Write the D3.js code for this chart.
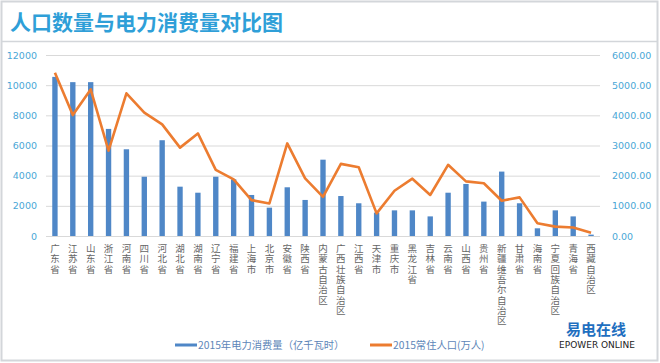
<!DOCTYPE html>
<html>
<head>
<meta charset="utf-8">
<script src="https://cdn.jsdelivr.net/npm/d3@7"></script>
<style>
  body { margin: 0; background: #fff; }
  svg { display: block; font-family: "Noto Sans CJK SC", "DejaVu Sans", sans-serif; }
</style>
</head>
<body>
<script>
// provinces, in chart order
var provinces = ["广东省", "江苏省", "山东省", "浙江省", "河南省", "四川省", "河北省", "湖北省", "湖南省", "辽宁省",
    "福建省", "上海市", "北京市", "安徽省", "陕西省", "内蒙古自治区", "广西壮族自治区", "江西省", "天津市", "重庆市",
    "黑龙江省", "吉林省", "云南省", "山西省", "贵州省", "新疆维吾尔自治区", "甘肃省", "海南省", "宁夏回族自治区", "青海省", "西藏自治区"];

// 2015 electricity consumption (left axis)
var power = [10550, 10200, 10200, 7100, 5750, 3930, 6350, 3270, 2870, 3930,
    3760, 2720, 1880, 3230, 2390, 5060, 2650, 2170, 1550, 1700,
    1700, 1300, 2870, 3450, 2280, 4270, 2170, 510, 1700, 1300, 90];

// 2015 resident population (right axis)
var population = [5410, 4010, 4860, 2830, 4730, 4090, 3700, 2930, 3400, 2190,
    1880, 1190, 1080, 3070, 1910, 1300, 2390, 2280, 750, 1500,
    1900, 1360, 2360, 1810, 1750, 1170, 1280, 420, 310, 280, 110];

var leftTicks = [0, 2000, 4000, 6000, 8000, 10000, 12000];
var rightTicks = [0, 1000, 2000, 3000, 4000, 5000, 6000];
var legendLabels = ["2015年电力消费量（亿千瓦时）", "2015常住人口(万人)"];

var W = 660, H = 363;
var margin = {top: 55, right: 60, bottom: 127, left: 46},
    width = W - margin.left - margin.right,
    height = H - margin.top - margin.bottom;

var blue = "#4f87c7", orange = "#ec7c30", axisBlue = "#4aa6d6";

var root = d3.select("body").append("svg")
    .attr("width", W)
    .attr("height", H);

// frame and title
root.append("rect")
    .attr("x", 1.5).attr("y", 1.5)
    .attr("width", W - 4).attr("height", H - 4)
    .style("fill", "none").style("stroke", "#d3d6da").style("stroke-width", 2);
root.append("line")
    .attr("x1", 2).attr("x2", W - 3).attr("y1", 41.5).attr("y2", 41.5)
    .style("stroke", "#d3d6da").style("stroke-width", 1.5);
root.append("text")
    .attr("x", 10).attr("y", 30)
    .style("font-size", "21px").style("font-weight", "bold")
    .style("fill", "#2f9fd8")
    .text("人口数量与电力消费量对比图");

var svg = root.append("g")
    .attr("transform", "translate(" + margin.left + "," + margin.top + ")");

var x = d3.scaleBand()
    .domain(provinces)
    .range([0, width])
    .paddingInner(0.7)
    .paddingOuter(0.35);

var yL = d3.scaleLinear().domain([0, 12000]).range([height, 0]);
var yR = d3.scaleLinear().domain([0, 6000]).range([height, 0]);

// gridlines
svg.append("g")
    .attr("class", "grid")
    .call(d3.axisLeft(yL).tickValues(leftTicks).tickSize(-width).tickFormat(""))
    .call(function(g) { g.select(".domain").remove(); })
    .selectAll("line")
    .style("stroke", "#d9d9d9");

// left axis labels
svg.append("g")
    .call(d3.axisLeft(yL).tickValues(leftTicks).tickSize(0).tickPadding(9).tickFormat(d3.format("d")))
    .call(function(g) { g.select(".domain").remove(); })
    .selectAll("text")
    .style("font", "9.5px 'DejaVu Sans', sans-serif")
    .style("fill", axisBlue);

// right axis labels
svg.append("g")
    .attr("transform", "translate(" + width + ",0)")
    .call(d3.axisRight(yR).tickValues(rightTicks).tickSize(0).tickPadding(12).tickFormat(d3.format(".2f")))
    .call(function(g) { g.select(".domain").remove(); })
    .selectAll("text")
    .style("font", "9.5px 'DejaVu Sans', sans-serif")
    .style("fill", axisBlue);

// bars
svg.selectAll(".bar")
    .data(provinces)
    .enter().append("rect")
    .attr("class", "bar")
    .attr("x", function(d) { return x(d); })
    .attr("width", x.bandwidth())
    .attr("y", function(d, i) { return yL(power[i]); })
    .attr("height", function(d, i) { return height - yL(power[i]); })
    .style("fill", blue);

// population line
var line = d3.line()
    .x(function(d, i) { return x(provinces[i]) + x.bandwidth() / 2; })
    .y(function(d) { return yR(d); });

svg.append("path")
    .datum(population)
    .attr("d", line)
    .style("fill", "none")
    .style("stroke", orange)
    .style("stroke-width", 2.6)
    .style("stroke-linejoin", "round");

// vertical category labels, one char per line
var labels = svg.selectAll(".xlab")
    .data(provinces)
    .enter().append("text")
    .attr("class", "xlab")
    .attr("text-anchor", "middle")
    .style("font-size", "9.5px")
    .style("fill", "#666");

labels.each(function(d) {
    var t = d3.select(this);
    var cx = x(d) + x.bandwidth() / 2;
    d.split("").forEach(function(ch, j) {
        t.append("tspan")
            .attr("x", cx)
            .attr("y", height + 16 + j * 10.3)
            .text(ch);
    });
});

// legend
var legendX = [175, 370];
var legendColors = [blue, orange];
var legend = root.selectAll(".legend")
    .data(legendLabels)
    .enter().append("g")
    .attr("class", "legend")
    .attr("transform", function(d, i) { return "translate(" + legendX[i] + ",345)"; });

legend.append("line")
    .attr("x1", 0).attr("x2", 22)
    .style("stroke", function(d, i) { return legendColors[i]; })
    .style("stroke-width", 3);

legend.append("text")
    .attr("x", 23)
    .attr("dy", "0.35em")
    .style("font-size", "10.3px")
    .style("fill", "#5d86b8")
    .text(function(d) { return d; });

// watermark logo
root.append("text")
    .attr("x", 596).attr("y", 335)
    .attr("text-anchor", "middle")
    .style("font-size", "15px").style("font-weight", "bold")
    .style("fill", "#1f6fc0")
    .text("易电在线");
root.append("text")
    .attr("x", 597).attr("y", 348)
    .attr("text-anchor", "middle")
    .style("font", "9px 'DejaVu Sans', sans-serif")
    .style("fill", "#222")
    .text("EPOWER ONLINE");
</script>
</body>
</html>
